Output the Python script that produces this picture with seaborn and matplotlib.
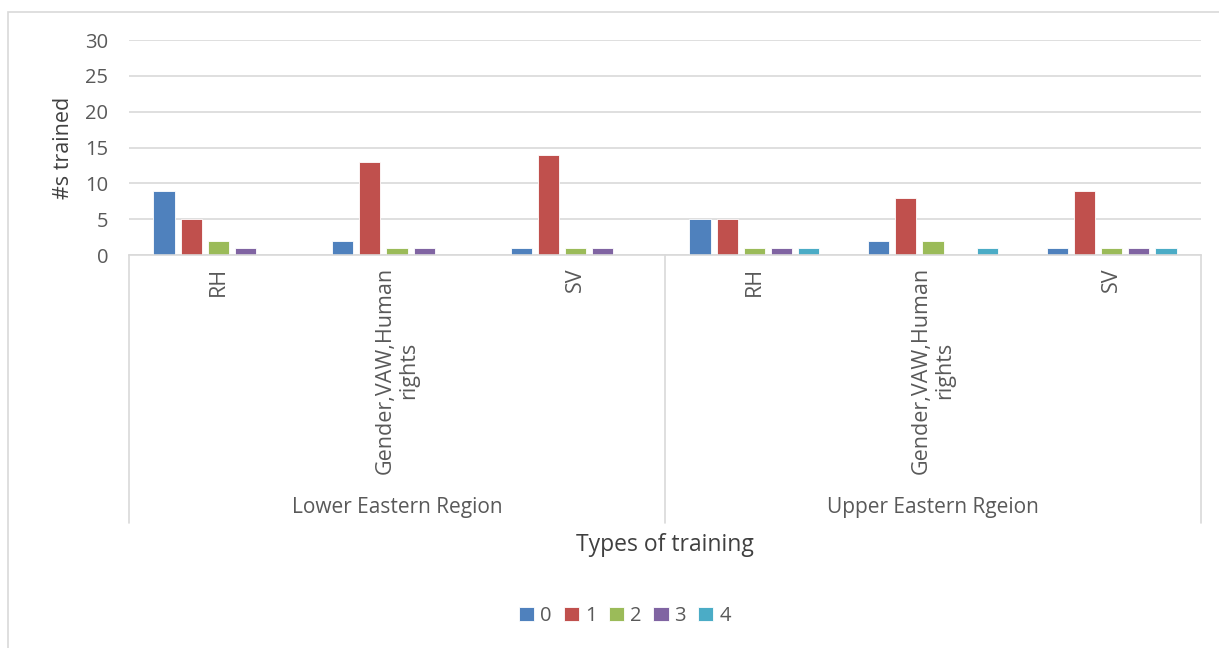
import numpy as np
import pandas as pd
import matplotlib
matplotlib.use("Agg")
import matplotlib.pyplot as plt
import matplotlib.transforms as mtrans
from matplotlib.lines import Line2D
from matplotlib.patches import Rectangle
import seaborn as sns

# Training types per region
regions = ["Lower Eastern Region", "Upper Eastern Rgeion"]
trainings = ["RH", "Gender,VAW,Human\nrights", "SV"]
series = ["0", "1", "2", "3", "4"]

# Number trained for each series (rows: RH, Gender/VAW/HR, SV)
lower_vals = {
    "0": [9, 2, 1],
    "1": [5, 13, 14],
    "2": [2, 1, 1],
    "3": [1, 1, 1],
    "4": [np.nan, np.nan, np.nan],
}
upper_vals = {
    "0": [5, 2, 1],
    "1": [5, 8, 9],
    "2": [1, 2, 1],
    "3": [1, np.nan, 1],
    "4": [1, 1, 1],
}

colors = ["#4F81BD", "#C0504D", "#9BBB59", "#8064A2", "#4BACC6"]

rows = []
for reg, vals in zip(regions, [lower_vals, upper_vals]):
    for i, t in enumerate(trainings):
        for s in series:
            rows.append({"slot": f"{reg}|{t}", "series": s, "value": vals[s][i]})
df = pd.DataFrame(rows)
slot_order = [f"{r}|{t}" for r in regions for t in trainings]

sns.set_theme(style="white")
plt.rcParams["font.family"] = ["Open Sans", "DejaVu Sans"]
text_color = "#595959"

W, H = 1219, 648
fig = plt.figure(figsize=(W / 100, H / 100), dpi=100)
ax = fig.add_axes([129 / W, 1 - 255 / H, (1201 - 129) / W, (255 - 40) / H])

sns.barplot(data=df, x="slot", y="value", hue="series", order=slot_order,
            hue_order=series, palette=colors, saturation=1, width=0.76,
            gap=0.22, edgecolor="white", linewidth=0.6, ax=ax, errorbar=None)

ax.set_xlim(-0.5, 5.5)
ax.set_ylim(0, 30)
ax.set_yticks(range(0, 31, 5))
ax.yaxis.grid(True, color="#D9D9D9", linewidth=1.2)
ax.set_axisbelow(True)
ax.tick_params(axis="y", length=0, pad=15, labelsize=14.5, labelcolor=text_color)
ax.set_xticks([])
ax.set_xlabel("")
ax.set_ylabel("#s trained", fontsize=15.5, color="#404040", labelpad=8)
for side in ["left", "right", "top"]:
    ax.spines[side].set_visible(False)
ax.spines["bottom"].set_color("#D9D9D9")
ax.spines["bottom"].set_linewidth(1.2)

trans = mtrans.blended_transform_factory(ax.transData, ax.transAxes)
ax_h = 255 - 40

# Sub-category labels (rotated)
for i, lab in enumerate(trainings * 2):
    ax.text(i, -(267 - 255) / ax_h, lab, transform=trans, rotation=90,
            ha="center", va="top", multialignment="center",
            fontsize=15.5, color=text_color, linespacing=1.15)

# Region labels and separators
for j, reg in enumerate(regions):
    ax.text(j * 3 + 1, -(507 - 255) / ax_h, reg, transform=trans,
            ha="center", va="center", fontsize=15, color=text_color)
for xsep in [-0.5, 2.5, 5.5]:
    ax.add_line(Line2D([xsep, xsep], [0, -(523 - 255) / ax_h], transform=trans,
                       color="#D9D9D9", linewidth=1.2, clip_on=False))

fig.text(665 / W, 1 - 545 / H, "Types of training", ha="center", va="center",
         fontsize=16.5, color="#404040")

handles, labels = ax.get_legend_handles_labels()
ax.get_legend().remove()
fig.legend(handles, labels, loc="center", bbox_to_anchor=(625 / W, 1 - 616 / H),
           ncol=5, frameon=False, fontsize=14.5, labelcolor=text_color,
           handlelength=0.75, handleheight=0.75, handletextpad=0.3,
           columnspacing=0.6)

# Chart frame
fig.patches.append(Rectangle((8 / W, -0.02), 1.1, 1 - 12 / H + 0.02,
                             transform=fig.transFigure, fill=False,
                             edgecolor="#D9D9D9", linewidth=1.2))

fig.savefig("out.png", dpi=100)
